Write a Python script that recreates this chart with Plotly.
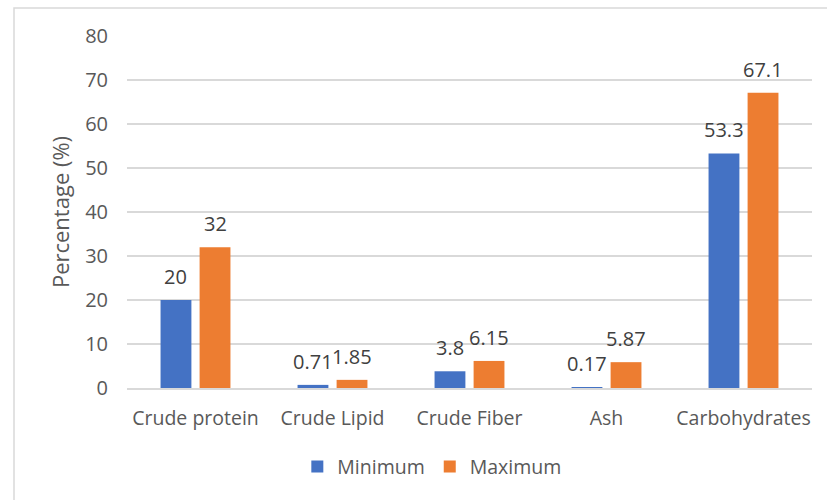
import plotly.graph_objects as go

categories = ["Crude protein", "Crude Lipid", "Crude Fiber", "Ash", "Carbohydrates"]
minimum = [20, 0.71, 3.8, 0.17, 53.3]
maximum = [32, 1.85, 6.15, 5.87, 67.1]
min_labels = ["20", "0.71", "3.8", "0.17", "53.3"]
max_labels = ["32", "1.85", "6.15", "5.87", "67.1"]
y_ticks = [0, 10, 20, 30, 40, 50, 60, 70, 80]

BLUE = "#4472C4"
ORANGE = "#ED7D31"
TEXT = "#595959"
GRID = "#D9D9D9"
FONT = "Open Sans"

W, H = 827, 500
M_L, M_R, M_T, M_B = 127, 15, 36, 112
BARGAP = 0.43
BARGROUPGAP = 0.21

fig = go.Figure()
fig.add_trace(go.Bar(name="Minimum", x=categories, y=minimum, marker_color=BLUE,
                     marker_line_width=0))
fig.add_trace(go.Bar(name="Maximum", x=categories, y=maximum, marker_color=ORANGE,
                     marker_line_width=0))

# value labels sit above the centre of each bar
plot_w = W - M_L - M_R
slot = plot_w / len(categories) * (1 - BARGAP) / 2
annotations = []
for cat, lo, hi, tlo, thi in zip(categories, minimum, maximum, min_labels, max_labels):
    for val, txt, sign in ((lo, tlo, -1), (hi, thi, 1)):
        annotations.append(dict(
            x=cat, y=val, xref="x", yref="y", text=txt, showarrow=False,
            xshift=sign * slot / 2, yshift=8, yanchor="bottom",
            font=dict(family=FONT, size=20, color="#404040"),
        ))

fig.update_layout(
    width=W, height=H,
    margin=dict(l=M_L, r=M_R, t=M_T, b=M_B),
    paper_bgcolor="white", plot_bgcolor="white",
    barmode="group", bargap=BARGAP, bargroupgap=BARGROUPGAP,
    font=dict(family=FONT, size=19.5, color=TEXT),
    annotations=annotations,
    showlegend=True,
    legend=dict(orientation="h", x=0.445, xanchor="center", y=-0.224, yanchor="middle",
                font=dict(family=FONT, size=19.5, color=TEXT), itemwidth=30,
                traceorder="normal"),
    shapes=[dict(type="rect", xref="paper", yref="paper",
                 x0=(14 - M_L) / plot_w, x1=1.2, y0=-0.6,
                 y1=(H - M_B - 8) / (H - M_T - M_B),
                 line=dict(color=GRID, width=1.5), fillcolor="rgba(0,0,0,0)", layer="below")],
)
fig.update_xaxes(showgrid=False, showline=True, linecolor=GRID, linewidth=1.5,
                 ticks="", ticklabelstandoff=12,
                 tickfont=dict(family=FONT, size=19.5, color=TEXT))
fig.update_yaxes(range=[0, 80], tickvals=y_ticks, showgrid=True, gridcolor=GRID,
                 gridwidth=1.5, zeroline=False, showline=False, ticks="",
                 ticklabelstandoff=18,
                 tickfont=dict(family=FONT, size=20, color=TEXT),
                 title=dict(text="Percentage (%)", standoff=9,
                            font=dict(family=FONT, size=22, color=TEXT)))

fig.write_html("out.html")
